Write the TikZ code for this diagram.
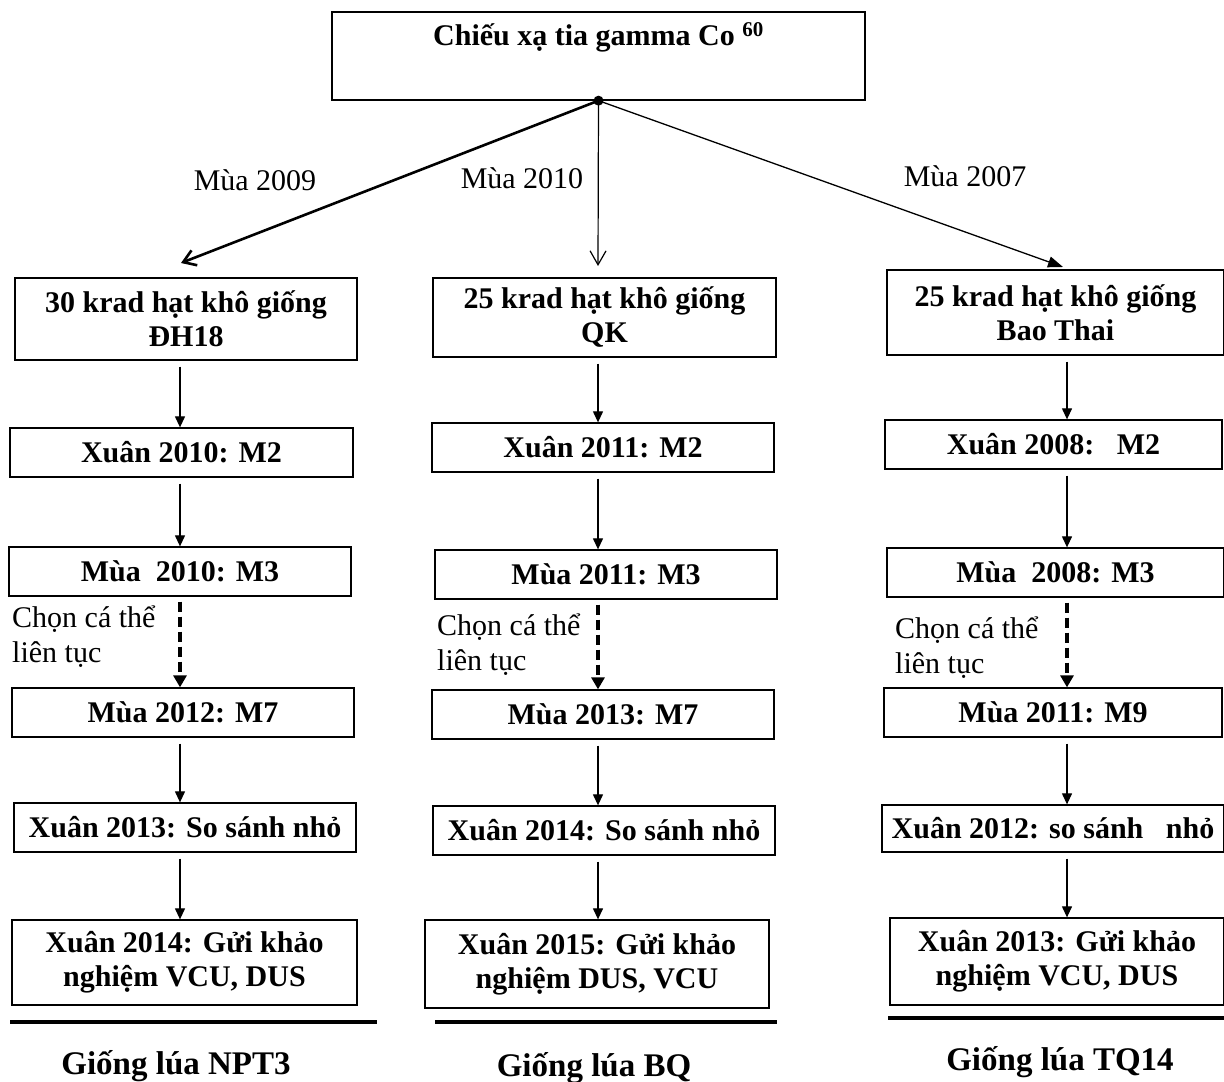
\documentclass[tikz,border=0pt]{standalone}
\usepackage{fontspec}
\setmainfont{Liberation Serif}
\usetikzlibrary{positioning,arrows.meta,calc}

\begin{document}
\begin{tikzpicture}[x=1pt,y=-1pt,font=\fontsize{30}{34}\selectfont,>=Latex]
  \tikzstyle{stage}=[draw,line width=1.3pt,inner sep=0pt,align=center,font=\fontsize{30}{34}\selectfont\bfseries]
  \tikzstyle{step arrow}=[-{Triangle[length=11pt,width=10pt]},line width=1.2pt,shorten <=6pt]
  \tikzstyle{select arrow}=[-{Triangle[length=12pt,width=13pt]},line width=3.5pt,dash pattern=on 10pt off 5pt,shorten <=5pt]
  \tikzstyle{season}=[font=\fontsize{30}{34}\selectfont]
  \tikzstyle{note}=[anchor=west,align=left,inner sep=0pt,font=\fontsize{30}{35}\selectfont]
  \tikzstyle{variety}=[font=\fontsize{33}{38}\selectfont\bfseries]
  \tikzstyle{rule}=[line width=4.5pt]
  \useasboundingbox (0,0) rectangle (1224,1082);
  % source
  \node[stage,minimum width=533pt,minimum height=88pt] (src) at (598.5,56) {Chiếu xạ tia gamma Co \textsuperscript{60}\\\strut};
  \coordinate (split) at (src.south);
  \fill (split) circle (5pt);
  % column x positions
  \coordinate (colA) at (180,0);
  \coordinate (colB) at (598,0);
  \coordinate (colC) at (1067,0);
  % column A
  \node[stage,minimum width=342pt,minimum height=82pt] (a1) at (186,319) {30 krad hạt khô giống\\ĐH18};
  \node[stage,minimum width=343pt,minimum height=49pt] (a2) at (181.5,452.5) {Xuân 2010: M2};
  \node[stage,minimum width=342pt,minimum height=49pt] (a3) at (180,571.5) {Mùa\ \ 2010: M3};
  \node[stage,minimum width=342pt,minimum height=49pt] (a4) at (183,712.5) {Mùa 2012: M7};
  \node[stage,minimum width=342pt,minimum height=49pt] (a5) at (185,827.5) {Xuân 2013: So sánh nhỏ};
  \node[stage,minimum width=345pt,minimum height=85pt] (a6) at (184.5,962.5) {Xuân 2014: Gửi khảo\\nghiệm VCU, DUS};
  % column B
  \node[stage,minimum width=343pt,minimum height=79pt] (b1) at (604.5,317.5) {25 krad hạt khô giống\\QK};
  \node[stage,minimum width=342pt,minimum height=49pt] (b2) at (603,447.5) {Xuân 2011: M2};
  \node[stage,minimum width=342pt,minimum height=49pt] (b3) at (606,574.5) {Mùa 2011: M3};
  \node[stage,minimum width=342pt,minimum height=49pt] (b4) at (603,714.5) {Mùa 2013: M7};
  \node[stage,minimum width=342pt,minimum height=49pt] (b5) at (604,830.5) {Xuân 2014: So sánh nhỏ};
  \node[stage,minimum width=344pt,minimum height=88pt] (b6) at (597,964) {Xuân 2015: Gửi khảo\\nghiệm DUS, VCU};
  % column C
  \node[stage,minimum width=337pt,minimum height=85pt] (c1) at (1055.5,312.5) {25 krad hạt khô giống\\Bao Thai};
  \node[stage,minimum width=337pt,minimum height=49pt] (c2) at (1053.5,444.5) {Xuân 2008:\ \ \ M2};
  \node[stage,minimum width=337pt,minimum height=49pt] (c3) at (1055.5,572.5) {Mùa\ \ 2008: M3};
  \node[stage,minimum width=338pt,minimum height=49pt] (c4) at (1053,712.5) {Mùa 2011: M9};
  \node[stage,minimum width=342pt,minimum height=47pt] (c5) at (1053,828.5) {Xuân 2012: so sánh\ \ \ nhỏ};
  \node[stage,minimum width=334pt,minimum height=87pt] (c6) at (1057,961.5) {Xuân 2013: Gửi khảo\\nghiệm VCU, DUS};
  % branches from the source
  \coordinate (endA) at (181,263);
  \coordinate (endB) at (598,266);
  \coordinate (endC) at (1063,267);
  \draw[-{Straight Barb[length=12pt,width=16pt]},line width=2.6pt] (split) -- (endA);
  \draw[-{Straight Barb[length=14pt,width=16pt]},line width=1.2pt] (split) -- (endB);
  \draw[-{Triangle[length=15pt,width=11pt]},line width=1.3pt] (split) -- (endC);
  \node[season] (sA) at (255,180) {Mùa 2009};
  \node[season] (sB) at (522,178) {Mùa 2010};
  \node[season] (sC) at (965,176) {Mùa 2007};
  % steps
  \foreach \c/\x in {a/colA,b/colB,c/colC}{
    \draw[step arrow] (\c1.south -| \x) -- (\c2.north -| \x);
    \draw[step arrow] (\c2.south -| \x) -- (\c3.north -| \x);
    \draw[select arrow] (\c3.south -| \x) -- (\c4.north -| \x);
    \draw[step arrow] (\c4.south -| \x) -- (\c5.north -| \x);
    \draw[step arrow] (\c5.south -| \x) -- (\c6.north -| \x);
  }
  \node[note] (nA) at (12,637) {Chọn cá thể\\liên tục};
  \node[note] (nB) at (437,645) {Chọn cá thể\\liên tục};
  \node[note] (nC) at (895,648) {Chọn cá thể\\liên tục};
  % results
  \draw[rule] (10,1022) -- (377,1022);
  \draw[rule] (435,1022) -- (777,1022);
  \draw[rule] (888,1018) -- (1224,1018);
  \node[variety] (vA) at (176,1066) {Giống lúa NPT3};
  \node[variety] (vB) at (594,1068) {Giống lúa BQ};
  \node[variety] (vC) at (1060,1062) {Giống lúa TQ14};
\end{tikzpicture}
\end{document}
